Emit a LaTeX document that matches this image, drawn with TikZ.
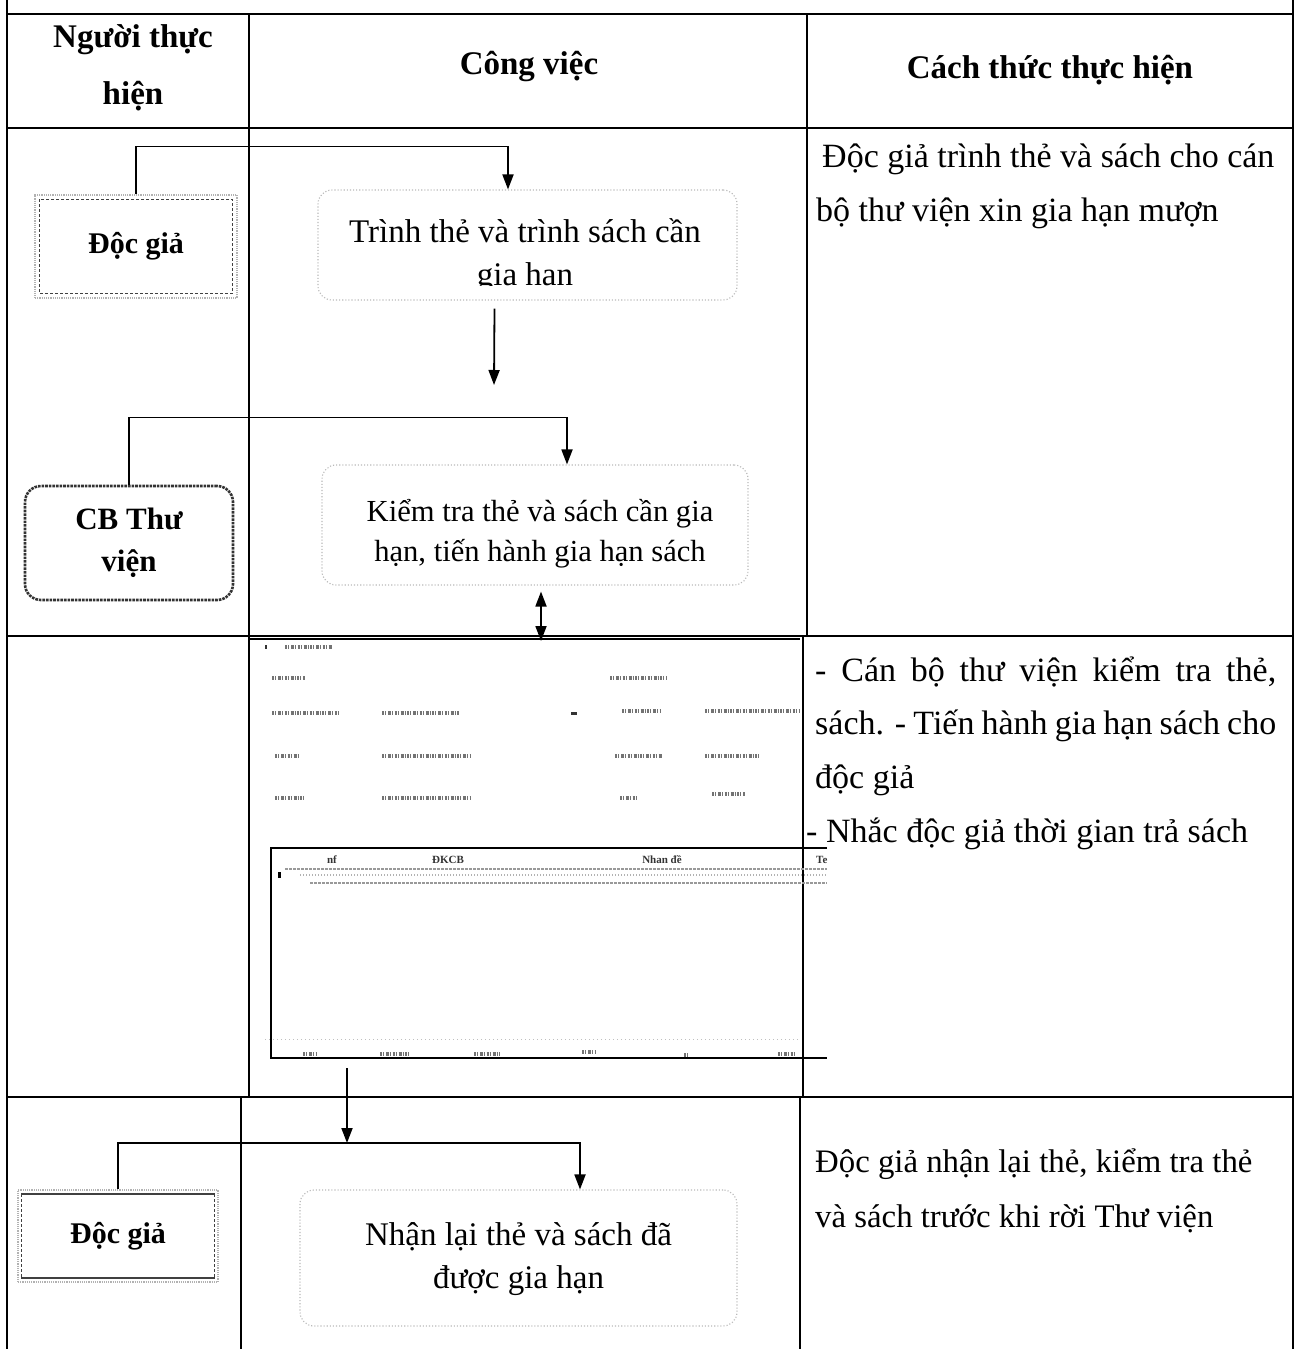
\documentclass[tikz,border=0pt]{standalone}
\usepackage{fontspec}
\setmainfont{Liberation Serif}
\usetikzlibrary{arrows.meta}
\begin{document}
\begin{tikzpicture}[x=1pt,y=-1pt,
  grid/.style={line width=1.4pt,black},
  arr/.style={line width=1.8pt,-{Triangle[length=15pt,width=11pt]}},
  darr/.style={line width=1.8pt,{Triangle[length=15pt,width=11pt]}-{Triangle[length=15pt,width=11pt]}},
  hdr/.style={font=\fontsize{33}{57}\selectfont\bfseries,align=center},
  body/.style={font=\fontsize{34}{40}\selectfont,anchor=base west,inner sep=0pt},
  bodyb/.style={font=\fontsize{32.8}{40}\selectfont,anchor=base west,inner sep=0pt},
  actorout/.style={draw=gray!60,densely dotted,line width=1.2pt,minimum width=#1,inner sep=0pt},
  actorin/.style={draw=black!75,densely dashed,line width=1.3pt},
  cbbox/.style={draw=black!80,line width=2.6pt,rounded corners=16pt,densely dotted},
  procbox/.style={draw=gray!55,dotted,line width=1.1pt,rounded corners=14pt,inner sep=0pt},
  boxtext/.style={font=\fontsize{33}{43}\selectfont,align=center},
  actortext/.style={font=\fontsize{30}{42}\selectfont\bfseries,align=center},
  smudge/.style={black!55,line width=3.5pt,dash pattern=on 2pt off 1pt on 1pt off 2pt on 3pt off 1pt on 1pt off 1.5pt},
  tiny/.style={font=\fontsize{11}{12}\selectfont\bfseries,text=black!80,inner sep=0pt}
]
\useasboundingbox (0,0) rectangle (1298,1349);
\fill[white] (0,0) rectangle (1298,1349);

% ---------- table ----------
\draw[grid] (7,0) -- (7,1349);
\draw[grid] (1293,0) -- (1293,1349);
\draw[grid] (7,14) -- (1293,14);
\draw[grid] (7,128) -- (1293,128);
\draw[grid] (7,636) -- (1293,636);
\draw[grid] (7,1097) -- (1293,1097);
\draw[grid] (249,14) -- (249,1097);
\draw[grid] (241,1097) -- (241,1349);
\draw[grid] (807,14) -- (807,636);
\draw[grid] (803,636) -- (803,1097);
\draw[grid] (800,1097) -- (800,1349);

% ---------- header ----------
\node[hdr] (h1) at (133,68) {Người thực\\hiện};
\node[hdr] (h2) at (529,67) {Công việc};
\node[hdr] (h3) at (1050,70) {Cách thức thực hiện};

% ---------- row 1 ----------
\node[actorout=202pt,minimum height=103pt] (dg1) at (136,246.5) {};
\draw[actorin] ([shift={(5,5)}]dg1.north west) rectangle ([shift={(-5,-5)}]dg1.south east);
\node[actortext] (dg1t) at (dg1) {Độc giả};

\node[procbox,minimum width=419pt,minimum height=110pt] (p1) at (527.5,245) {};
\begin{scope}
  \clip (300,170) rectangle (760,285);
  \node[boxtext] (p1t) at (525,256) {Trình thẻ và trình sách cần\\gia hạn};
\end{scope}

\draw[arr] (dg1.north) |- ([xshift=-19.5pt,yshift=43pt]p1.north) -- ([xshift=-19.5pt]p1.north);

\node[cbbox,minimum width=208pt,minimum height=114pt] (cb) at (129,543) {};
\node[actortext,font=\fontsize{31}{42}\selectfont\bfseries] (cbt) at (cb) {CB Thư\\viện};

\node[procbox,minimum width=426pt,minimum height=120pt] (p2) at (535,525) {};
\node[boxtext,font=\fontsize{30.6}{40}\selectfont] (p2t) at (540,534) {Kiểm tra thẻ và sách cần gia\\hạn, tiến hành gia hạn sách};

\coordinate (a2s) at ([xshift=-33pt,yshift=-8pt]p1.south);
\coordinate (a2e) at (494,385);
\draw[arr] (a2s) -- (a2e);

\draw[arr] (cb.north) |- ([xshift=32pt,yshift=47pt]p2.north) -- ([xshift=32pt]p2.north);

\node[body] (r1a) at (822,167) {Độc giả trình thẻ và sách cho cán};
\node[body] (r1b) at (816,221) {bộ thư viện xin gia hạn mượn};

% ---------- row 2 : screenshot ----------
\coordinate (ss1) at (541,641);
\draw[darr] ([xshift=6pt,yshift=-6pt]p2.south) -- (ss1);
\draw[line width=2.4pt] (250,639) -- (800,639);

% upper form fields (illegible text)
\fill[black!80] (265,645) rectangle (267,649);
\draw[smudge] (285,647) -- (332,647);
\draw[smudge] (272,678) -- (305,678);
\draw[smudge] (610,678) -- (667,678);
\draw[smudge] (272,713) -- (340,713);
\draw[smudge] (382,713) -- (460,713);
\fill[black!80] (571,712) rectangle (577,715);
\draw[smudge] (622,711) -- (660,711);
\draw[smudge] (705,711) -- (800,711);
\draw[smudge] (275,756) -- (300,756);
\draw[smudge] (382,756) -- (470,756);
\draw[smudge] (615,756) -- (662,756);
\draw[smudge] (705,756) -- (760,756);
\draw[smudge] (275,798) -- (305,798);
\draw[smudge] (382,798) -- (470,798);
\draw[smudge] (620,798) -- (636,798);
\draw[smudge] (712,794) -- (745,794);

% grid of the screenshot
\draw[line width=1.6pt] (827,848) -- (271,848) -- (271,1058) -- (827,1058);
\node[tiny] (g1) at (332,860) {nf};
\node[tiny] (g2) at (448,860) {ĐKCB};
\node[tiny] (g3) at (662,860) {Nhan đề};
\node[tiny,anchor=west] (g4) at (816,860) {Te};
\draw[gray!80,line width=1.2pt,dash pattern=on 3pt off 1pt] (285,869) -- (827,869);
\draw[gray!60,line width=1.2pt,dash pattern=on 1pt off 2pt] (300,875) -- (827,875);
\draw[gray!80,line width=1.2pt,dash pattern=on 3pt off 1pt] (310,883) -- (827,883);
\fill[black] (278,872) rectangle (281,878);

% bottom labels of the screenshot (illegible)
\draw[gray!50,line width=0.8pt,dash pattern=on 1pt off 3pt] (265,1039) -- (800,1039);
\draw[smudge] (303,1054) -- (316,1054);
\draw[smudge] (380,1054) -- (410,1054);
\draw[smudge] (474,1054) -- (500,1054);
\draw[smudge] (582,1052) -- (596,1052);
\draw[smudge] (684,1055) -- (688,1055);
\draw[smudge] (778,1054) -- (796,1054);

\coordinate (ss2) at (347,1068);

\node[body] (r2a) at (815,681) {\makebox[461pt][s]{- Cán bộ thư viện kiểm tra thẻ,}};
\node[body] (r2b) at (815,734) {\makebox[461pt][s]{sách. - Tiến hành gia hạn sách cho}};
\node[body] (r2c) at (815,788) {độc giả};
\node[body] (r2d) at (806,842) {- Nhắc độc giả thời gian trả sách};

% ---------- row 3 ----------
\node[actorout=200pt,minimum height=92pt] (dg3) at (118,1236) {};
\draw[actorin,solid,line width=2pt] ([shift={(4,5)}]dg3.north west) -- ([shift={(-4,5)}]dg3.north east);
\draw[actorin,solid,line width=2pt] ([shift={(4,-5)}]dg3.south west) -- ([shift={(-4,-5)}]dg3.south east);
\draw[actorin] ([shift={(4,5)}]dg3.north west) -- ([shift={(4,-5)}]dg3.south west);
\draw[actorin] ([shift={(-4,5)}]dg3.north east) -- ([shift={(-4,-5)}]dg3.south east);
\node[actortext] (dg3t) at (dg3) {Độc giả};

\node[procbox,minimum width=437pt,minimum height=136pt] (p3) at (518.5,1258) {};
\node[boxtext] (p3t) at (518.5,1259) {Nhận lại thẻ và sách đã\\được gia hạn};

\coordinate (j3) at (347,1143);
\draw[arr] (ss2) -- (j3);
\draw[arr] (dg3.north) |- (j3) -| ([xshift=61.5pt]p3.north);

\node[bodyb] (r3a) at (815,1172) {Độc giả nhận lại thẻ, kiểm tra thẻ};
\node[bodyb] (r3b) at (815,1227) {và sách trước khi rời Thư viện};
\end{tikzpicture}
\end{document}
